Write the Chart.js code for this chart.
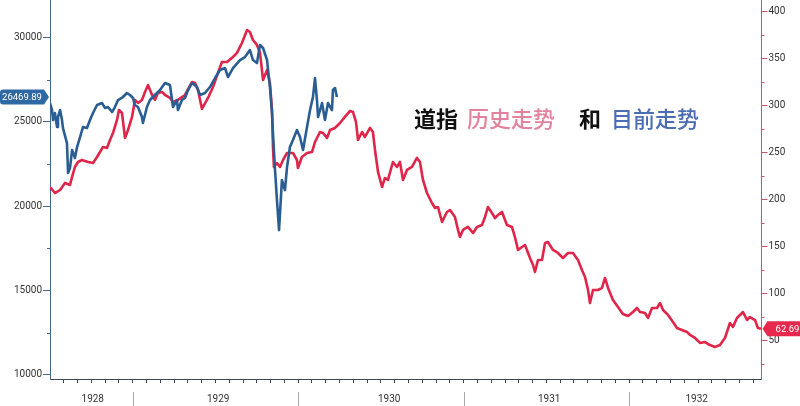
<!DOCTYPE html>
<html lang="zh">
<head>
<meta charset="UTF-8">
<title>道指 历史走势 和 目前走势</title>
<script src="https://cdn.jsdelivr.net/npm/chart.js"></script>
<style>
  html, body { margin: 0; padding: 0; background: #fff; overflow: hidden; }
  #wrap { position: relative; width: 800px; height: 406px; }
  #title span {
    position: absolute;
    top: 105px;
    font-family: "Noto Sans CJK SC", sans-serif;
    font-size: 22px;
    line-height: 24px;
    white-space: nowrap;
  }
</style>
</head>
<body>
<div id="wrap">
  <canvas id="dow" width="800" height="406"></canvas>
  <div id="title">
    <span style="left:414px; color:#111; font-weight:700">道指</span>
    <span style="left:467px; color:#e3829c; font-weight:500">历史走势</span>
    <span style="left:579px; color:#111; font-weight:700">和</span>
    <span style="left:611px; color:#4a6db4; font-weight:500">目前走势</span>
  </div>
</div>

<script>
// x values are months counted from Jan 1928 (6 = Jul 1928)
const histMonths = [
  6.00, 6.36, 6.73, 7.09, 7.45, 7.60, 7.81, 8.03, 8.32, 8.76, 9.12, 9.41, 9.63, 9.84,
  10.13, 10.35, 10.57, 10.86, 11.00, 11.22, 11.37, 11.44, 11.66, 11.95, 12.16, 12.38,
  12.67, 12.89, 13.11, 13.40, 13.61, 13.83, 14.12, 14.34, 14.70, 14.92, 15.28, 15.79,
  16.30, 16.52, 16.73, 17.02, 17.46, 17.82, 18.18, 18.47, 18.84, 19.27, 19.56, 19.92,
  20.29, 20.50, 20.72, 21.01, 21.23, 21.37, 21.45, 21.74, 21.95, 22.10, 22.17, 22.24,
  22.46, 22.68, 22.90, 23.19, 23.62, 23.91, 23.98, 24.27, 24.64, 25.00, 25.22, 25.58,
  25.80, 26.09, 26.31, 26.67, 27.03, 27.39, 27.76, 27.97, 28.19, 28.34, 28.63, 28.84,
  29.21, 29.42, 29.57, 29.79, 30.08, 30.29, 30.51, 30.87, 31.16, 31.38, 31.60, 31.89,
  32.25, 32.61, 32.83, 33.05, 33.34, 33.70, 33.92, 34.14, 34.43, 34.79, 35.01, 35.37,
  35.59, 35.73, 35.95, 36.31, 36.68, 36.97, 37.33, 37.55, 37.76, 38.05, 38.27, 38.49,
  38.78, 39.14, 39.50, 39.72, 39.94, 40.23, 40.45, 40.81, 41.03, 41.17, 41.39, 41.68,
  41.90, 42.11, 42.48, 42.84, 43.20, 43.57, 43.93, 44.29, 44.58, 44.80, 45.02, 45.16,
  45.38, 45.74, 46.03, 46.25, 46.47, 46.83, 47.19, 47.55, 47.92, 48.28, 48.57, 48.79,
  49.15, 49.37, 49.66, 50.02, 50.24, 50.46, 50.82, 51.18, 51.47, 51.83, 52.20, 52.41,
  52.78, 53.14, 53.50, 53.86, 54.22, 54.59, 54.95, 55.31, 55.53, 55.82, 56.26, 56.55,
  56.76, 57.13, 57.34, 57.56
];
const histDow = [
  213.5, 207.1, 210.3, 217.8, 215.6, 224.2, 234.8, 240.1, 242.2, 240.1, 239.0, 245.4, 250.7, 256.1,
  255.0, 263.5, 271.0, 284.8, 295.4, 292.2, 274.2, 265.6, 274.2, 288.0, 306.1, 302.9,
  306.1, 314.6, 322.0, 311.4, 306.1, 313.5, 314.6, 311.4, 308.2, 303.9, 306.1, 311.4,
  325.2, 324.2, 316.7, 296.5, 308.2, 319.9, 334.8, 346.5, 346.5, 351.8, 356.1, 366.7,
  380.5, 378.4, 369.9, 364.6, 356.1, 338.0, 327.3, 338.0, 324.2, 295.4, 256.1, 234.8,
  239.0, 234.8, 242.2, 249.7, 249.7, 242.2, 233.7, 245.4, 249.7, 250.7, 261.4, 272.0,
  271.0, 265.6, 274.2, 276.3, 281.6, 288.0, 294.4, 293.3, 282.7, 263.5, 272.0, 266.7,
  276.3, 272.0, 252.9, 229.5, 213.5, 223.1, 221.0, 240.1, 234.8, 240.1, 221.0, 231.6,
  234.8, 244.4, 240.1, 221.0, 207.1, 196.5, 191.2, 192.2, 176.3, 186.9, 189.0, 181.6,
  167.8, 160.3, 167.8, 171.0, 164.6, 171.0, 173.1, 181.6, 192.2, 185.9, 180.5, 183.7,
  186.9, 173.1, 171.0, 160.3, 146.5, 149.7, 151.8, 138.0, 130.5, 123.1, 135.9, 135.9,
  153.9, 155.0, 146.5, 143.3, 138.0, 143.3, 143.3, 135.9, 125.2, 117.8, 103.9, 90.1,
  103.9, 103.9, 106.1, 116.7, 106.1, 93.3, 85.9, 78.4, 76.3, 80.5, 84.8, 80.5,
  79.5, 74.2, 84.8, 84.8, 90.1, 82.7, 77.4, 69.9, 63.5, 61.4, 59.3, 56.1,
  52.9, 47.6, 48.6, 45.4, 43.3, 45.4, 52.9, 68.8, 64.6, 74.2, 80.5, 72.0,
  75.2, 72.0, 63.5, 62.69
];

const nowMonths = [
  6.00, 6.15, 6.22, 6.36, 6.51, 6.58, 6.73, 6.87, 6.94, 7.23, 7.31, 7.45, 7.60, 7.81,
  7.96, 8.18, 8.39, 8.68, 8.90, 9.12, 9.41, 9.77, 9.99, 10.21, 10.50, 10.71, 10.93, 11.29,
  11.58, 11.80, 12.02, 12.16, 12.38, 12.67, 12.74, 13.03, 13.25, 13.61, 13.98, 14.34, 14.70,
  14.92, 15.21, 15.28, 15.57, 15.79, 16.01, 16.30, 16.66, 16.88, 17.24, 17.60, 17.97, 18.33,
  18.69, 18.91, 19.27, 19.78, 20.14, 20.50, 20.72, 21.01, 21.23, 21.45, 21.74, 21.95, 22.10,
  22.17, 22.32, 22.46, 22.61, 22.82, 23.04, 23.19, 23.40, 23.62, 23.91, 24.13, 24.35, 24.64,
  24.86, 25.07, 25.22, 25.36, 25.44, 25.73, 25.94, 26.16, 26.45, 26.52, 26.67, 26.81
];
const nowDow = [
  26108, 25693, 25101, 25515, 24686, 25279, 25693, 25101, 24627, 23738, 21961, 22257, 23324, 22850,
  23501, 24094, 24686, 24627, 25101, 25515, 25989, 26108, 25812, 25871, 25575, 25871, 26286, 26463,
  26700, 26582, 26404, 25989, 25871, 25279, 24923, 25871, 26286, 26582, 26878, 27293, 27174,
  25871, 26286, 25693, 26286, 26404, 26878, 27293, 27056, 26582, 26700, 27056, 27589, 28063,
  28181, 27648, 28181, 28655, 28833, 29248, 28655, 28478, 29544, 29366, 28655, 27056, 25515,
  24331, 22139, 20362, 18584, 21546, 20954, 22317, 23501, 23916, 24508, 24094, 23324, 24686,
  25693, 26463, 27589, 26286, 25279, 26108, 25101, 26108, 25693, 26878, 26997, 26469.89
];

const leftTicks = [10000, 12500, 15000, 17500, 20000, 22500, 25000, 27500, 30000];
const rightTicks = [25, 50, 75, 100, 125, 150, 175, 200, 225, 250, 275, 300, 325, 350, 375, 400];
const yearLabels = ['1928', '1929', '1930', '1931', '1932'];
const yearLabelAt = [9.1, 18.2, 30.6, 42.2, 52.9];
const yearBreaks = [12, 24, 36, 48];
const monthTicks = [];
for (let m = 7; m <= 57; m++) monthTicks.push(m);

const RED = '#df2549';
const BLUE = '#2a5e93';
const LEFT_AXIS = '#46698f';
const RIGHT_AXIS = '#c9546f';
const X_AXIS = '#3c4650';
const tickFont = { family: 'Roboto', size: 10 };
const clear = 'rgba(0,0,0,0)';

function noPad(s) {
  // keep the plot flush with the canvas edges like the original
  s.paddingTop = 0; s.paddingBottom = 0; s.paddingLeft = 0; s.paddingRight = 0;
}

function badge(ctx, tipX, y, w, dir, fill, text) {
  // small price tag with an arrow pointing at the axis
  const h = 15, r = 3;
  const bx = dir > 0 ? tipX - 5 - w : tipX + 5;
  ctx.save();
  ctx.fillStyle = fill;
  ctx.beginPath();
  if (dir > 0) {
    ctx.moveTo(bx + r, y - h / 2);
    ctx.lineTo(bx + w, y - h / 2);
    ctx.lineTo(tipX, y);
    ctx.lineTo(bx + w, y + h / 2);
    ctx.lineTo(bx + r, y + h / 2);
    ctx.arcTo(bx, y + h / 2, bx, y + h / 2 - r, r);
    ctx.lineTo(bx, y - h / 2 + r);
    ctx.arcTo(bx, y - h / 2, bx + r, y - h / 2, r);
  } else {
    ctx.moveTo(tipX, y);
    ctx.lineTo(bx, y - h / 2);
    ctx.lineTo(bx + w, y - h / 2);
    ctx.lineTo(bx + w, y + h / 2);
    ctx.lineTo(bx, y + h / 2);
  }
  ctx.closePath();
  ctx.fill();
  ctx.fillStyle = '#fff';
  ctx.font = '9.5px Roboto';
  ctx.textAlign = 'center';
  ctx.textBaseline = 'middle';
  ctx.fillText(text, bx + w / 2, y + 0.5);
  ctx.restore();
}

const extras = {
  id: 'extras',
  afterDraw(chart) {
    const { ctx } = chart;
    const { x, left, right } = chart.scales;
    ctx.save();
    ctx.lineWidth = 1;
    // short minor ticks
    ctx.strokeStyle = LEFT_AXIS;
    leftTicks.filter(v => v % 5000 !== 0).forEach(v => {
      const py = Math.round(left.getPixelForValue(v)) + 0.5;
      ctx.beginPath(); ctx.moveTo(left.right - 3, py); ctx.lineTo(left.right, py); ctx.stroke();
    });
    ctx.strokeStyle = RIGHT_AXIS;
    rightTicks.filter(v => v % 50 !== 0).forEach(v => {
      const py = Math.round(right.getPixelForValue(v)) + 0.5;
      ctx.beginPath(); ctx.moveTo(right.left, py); ctx.lineTo(right.left + 3, py); ctx.stroke();
    });
    // year separators under the axis
    ctx.strokeStyle = '#a8a8a8';
    yearBreaks.forEach(b => {
      const px = Math.round(x.getPixelForValue(b)) + 0.5;
      ctx.beginPath(); ctx.moveTo(px, x.top + 13); ctx.lineTo(px, x.bottom); ctx.stroke();
    });
    ctx.restore();

    const lastNow = nowDow[nowDow.length - 1];
    const lastHist = histDow[histDow.length - 1];
    badge(ctx, left.right - 1, left.getPixelForValue(lastNow), 44, 1, '#2f69a3', lastNow.toFixed(2));
    badge(ctx, right.left + 1, right.getPixelForValue(lastHist), 40, -1, '#e8294e', lastHist.toFixed(2));
  }
};

new Chart(document.getElementById('dow'), {
  type: 'line',
  data: {
    datasets: [{
      label: '目前走势',
      data: nowMonths.map((m, i) => ({ x: m, y: nowDow[i] })),
      yAxisID: 'left',
      borderColor: BLUE,
      borderWidth: 2.6,
      pointRadius: 0,
      tension: 0,
      borderJoinStyle: 'round'
    }, {
      label: '历史走势',
      data: histMonths.map((m, i) => ({ x: m, y: histDow[i] })),
      yAxisID: 'right',
      borderColor: RED,
      borderWidth: 2.6,
      pointRadius: 0,
      tension: 0,
      borderJoinStyle: 'round'
    }]
  },
  options: {
    responsive: false,
    animation: false,
    layout: { padding: 0 },
    plugins: { legend: { display: false }, tooltip: { enabled: false } },
    scales: {
      x: {
        type: 'linear',
        min: 6,
        max: 57.6,
        afterBuildTicks: s => {
          s.ticks = monthTicks.concat(yearLabelAt).sort((a, b) => a - b).map(v => ({ value: v }));
        },
        afterFit: s => { s.height = 27; noPad(s); },
        ticks: {
          autoSkip: false,
          maxRotation: 0,
          padding: 10,
          color: '#333',
          font: tickFont,
          callback: v => {
            const i = yearLabelAt.indexOf(v);
            return i < 0 ? '' : yearLabels[i];
          }
        },
        grid: {
          drawOnChartArea: false,
          tickLength: 4,
          tickColor: c => (c.tick && yearLabelAt.includes(c.tick.value)) ? clear : X_AXIS
        },
        border: { color: X_AXIS }
      },
      left: {
        position: 'left',
        min: 9763,
        max: 32210,
        afterBuildTicks: s => { s.ticks = leftTicks.map(v => ({ value: v })); },
        afterFit: s => { s.width = 50; noPad(s); },
        ticks: {
          padding: 1,
          color: '#333',
          font: tickFont,
          callback: v => v % 5000 === 0 ? String(v) : ''
        },
        grid: {
          drawOnChartArea: false,
          tickLength: 7,
          tickColor: c => (c.tick && c.tick.value % 5000 === 0) ? LEFT_AXIS : clear
        },
        border: { color: LEFT_AXIS }
      },
      right: {
        position: 'right',
        min: 9.26,
        max: 412.4,
        afterBuildTicks: s => { s.ticks = rightTicks.map(v => ({ value: v })); },
        afterFit: s => { s.width = 38.5; noPad(s); },
        ticks: {
          padding: 1,
          color: '#333',
          font: tickFont,
          callback: v => v % 50 === 0 ? String(v) : ''
        },
        grid: {
          drawOnChartArea: false,
          tickLength: 6,
          tickColor: c => (c.tick && c.tick.value % 50 === 0) ? RIGHT_AXIS : clear
        },
        border: { color: RIGHT_AXIS }
      }
    }
  },
  plugins: [extras]
});
</script>
</body>
</html>
